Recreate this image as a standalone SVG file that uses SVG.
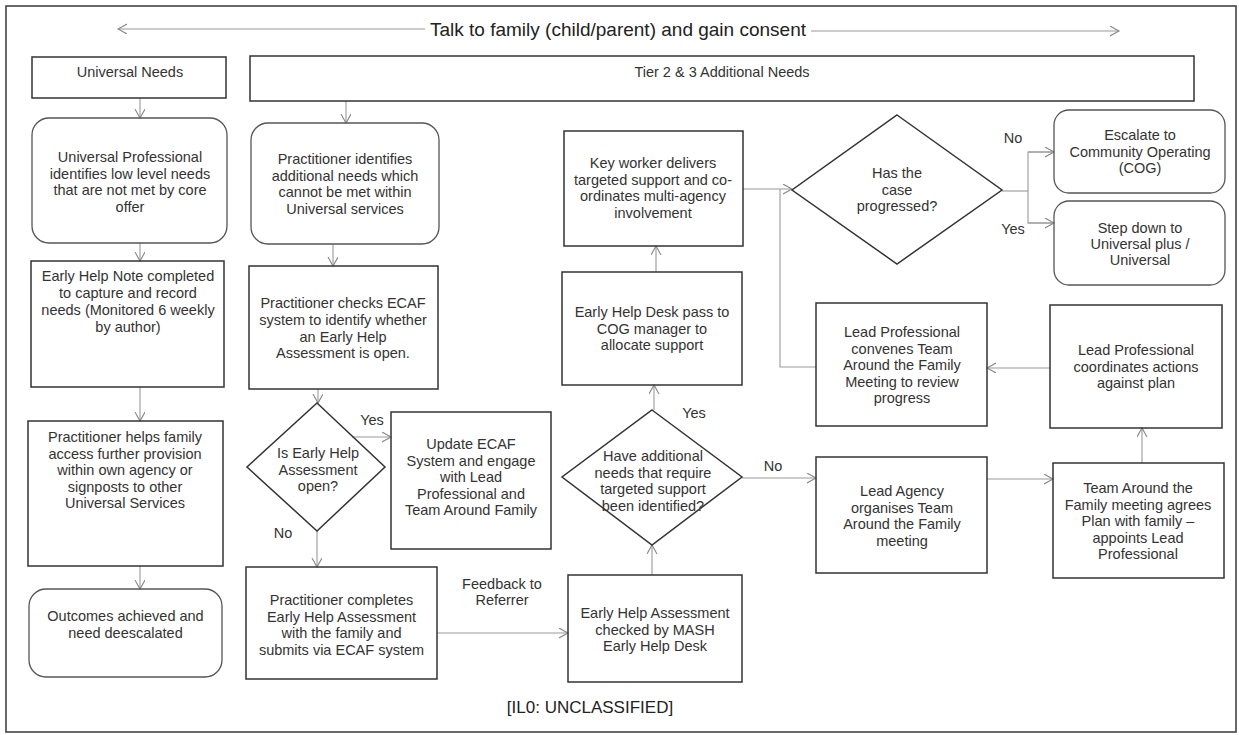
<svg xmlns="http://www.w3.org/2000/svg" width="1239" height="735" viewBox="0 0 1239 735">
<style>
  .bx{fill:none;stroke:#333;stroke-width:1.5}
  .rb{fill:none;stroke:#555;stroke-width:1.3}
  .t{font-family:"Liberation Sans",Arial,sans-serif;font-size:14.5px;fill:#333;text-anchor:middle}
  .lb{font-family:"Liberation Sans",Arial,sans-serif;font-size:14.5px;fill:#333;text-anchor:middle}
  .cn{fill:none;stroke:#999;stroke-width:1.1}
  .ttl{font-family:"Liberation Sans",Arial,sans-serif;font-size:19px;fill:#222;text-anchor:middle}
</style>
<defs>
  <marker id="ah" markerUnits="userSpaceOnUse" markerWidth="12" markerHeight="12" refX="9" refY="5" orient="auto">
    <path d="M0,0 L9,5 L0,10" fill="none" stroke="#888" stroke-width="1.1"/>
  </marker>
</defs>
<rect width="1239" height="735" fill="#fff"/>
<rect x="6" y="6" width="1230" height="726" fill="none" stroke="#444" stroke-width="1.6"/>

<g id="title">
  <text class="ttl" x="618" y="36">Talk to family (child/parent) and gain consent</text>
</g>

<g id="connectors">
  <line class="cn" x1="425" y1="29" x2="118" y2="29" marker-end="url(#ah)"/>
  <line class="cn" x1="811" y1="31" x2="1119" y2="31" marker-end="url(#ah)"/>
  <line class="cn" x1="140" y1="98" x2="140" y2="118" marker-end="url(#ah)"/>
  <line class="cn" x1="346" y1="101" x2="346" y2="123" marker-end="url(#ah)"/>
  <line class="cn" x1="140" y1="243" x2="140" y2="261" marker-end="url(#ah)"/>
  <line class="cn" x1="333" y1="244" x2="333" y2="266" marker-end="url(#ah)"/>
  <line class="cn" x1="140" y1="387" x2="140" y2="421" marker-end="url(#ah)"/>
  <line class="cn" x1="318" y1="389" x2="318" y2="403" marker-end="url(#ah)"/>
  <line class="cn" x1="140" y1="566" x2="140" y2="589" marker-end="url(#ah)"/>
  <line class="cn" x1="352" y1="437" x2="391" y2="437" marker-end="url(#ah)"/>
  <line class="cn" x1="317" y1="531" x2="317" y2="567" marker-end="url(#ah)"/>
  <line class="cn" x1="437" y1="633" x2="568" y2="633" marker-end="url(#ah)"/>
  <line class="cn" x1="652" y1="575" x2="652" y2="545" marker-end="url(#ah)"/>
  <line class="cn" x1="654" y1="410" x2="654" y2="385" marker-end="url(#ah)"/>
  <line class="cn" x1="656" y1="272" x2="656" y2="246" marker-end="url(#ah)"/>
  <line class="cn" x1="742" y1="478" x2="816" y2="478" marker-end="url(#ah)"/>
  <line class="cn" x1="987" y1="479" x2="1053" y2="479" marker-end="url(#ah)"/>
  <line class="cn" x1="1142" y1="463" x2="1142" y2="428" marker-end="url(#ah)"/>
  <line class="cn" x1="1050" y1="368" x2="987" y2="368" marker-end="url(#ah)"/>
  <line class="cn" x1="743" y1="189" x2="792" y2="189" marker-end="url(#ah)"/>
  <polyline class="cn" points="816,367 780,367 780,189"/>
  <polyline class="cn" points="1002,191 1028,191"/>
  <polyline class="cn" points="1054,152 1028,152 1028,223 1054,223"/>
  <line class="cn" x1="1028" y1="152" x2="1054" y2="152" marker-end="url(#ah)"/>
  <line class="cn" x1="1028" y1="223" x2="1054" y2="223" marker-end="url(#ah)"/>
</g>

<g id="universal-needs">
  <rect class="bx" x="32" y="57" width="194" height="41"/>
  <text class="t" x="130" y="77">Universal Needs</text>
</g>
<g id="tier-needs">
  <rect class="bx" x="250" y="56" width="944" height="45"/>
  <text class="t" x="722" y="77">Tier 2 &amp; 3 Additional Needs</text>
</g>
<g id="universal-professional">
  <rect class="rb" x="32" y="118" width="195" height="125" rx="17"/>
  <text class="t" x="130"><tspan x="130" y="162">Universal Professional</tspan><tspan x="130" y="178.5">identifies low level needs</tspan><tspan x="130" y="195">that are not met by core</tspan><tspan x="130" y="211.5">offer</tspan></text>
</g>
<g id="early-help-note">
  <rect class="bx" x="31" y="261" width="193" height="126"/>
  <text class="t"><tspan x="128" y="281">Early Help Note completed</tspan><tspan x="128" y="298">to capture and record</tspan><tspan x="128" y="315">needs (Monitored 6 weekly</tspan><tspan x="128" y="332">by author)</tspan></text>
</g>
<g id="practitioner-helps">
  <rect class="bx" x="28" y="421" width="195" height="145"/>
  <text class="t"><tspan x="125" y="442">Practitioner helps family</tspan><tspan x="125" y="458.5">access further provision</tspan><tspan x="125" y="475">within own agency or</tspan><tspan x="125" y="491.5">signposts to other</tspan><tspan x="125" y="508">Universal Services</tspan></text>
</g>
<g id="outcomes">
  <rect class="rb" x="29" y="589" width="193" height="88" rx="17"/>
  <text class="t"><tspan x="125.5" y="621">Outcomes achieved and</tspan><tspan x="125.5" y="637.5">need deescalated</tspan></text>
</g>
<g id="practitioner-identifies">
  <rect class="rb" x="251" y="123" width="188" height="121" rx="17"/>
  <text class="t"><tspan x="345" y="164">Practitioner identifies</tspan><tspan x="345" y="180.5">additional needs which</tspan><tspan x="345" y="197">cannot be met within</tspan><tspan x="345" y="213.5">Universal services</tspan></text>
</g>
<g id="practitioner-checks">
  <rect class="bx" x="249" y="266" width="189" height="123"/>
  <text class="t"><tspan x="343" y="308">Practitioner checks ECAF</tspan><tspan x="343" y="325">system to identify whether</tspan><tspan x="343" y="341.5">an Early Help</tspan><tspan x="343" y="358">Assessment is open.</tspan></text>
</g>
<g id="is-open">
  <polygon class="bx" points="317,403 385,467 317,531 247,467"/>
  <text class="t"><tspan x="318" y="458">Is Early Help</tspan><tspan x="318" y="474.5">Assessment</tspan><tspan x="318" y="491">open?</tspan></text>
</g>
<g id="update-ecaf">
  <rect class="bx" x="391" y="412" width="160" height="137"/>
  <text class="t"><tspan x="471" y="449">Update ECAF</tspan><tspan x="471" y="465.5">System and engage</tspan><tspan x="471" y="482">with Lead</tspan><tspan x="471" y="498.5">Professional and</tspan><tspan x="471" y="515">Team Around Family</tspan></text>
</g>
<g id="practitioner-completes">
  <rect class="bx" x="246" y="567" width="191" height="112"/>
  <text class="t"><tspan x="341.5" y="605">Practitioner completes</tspan><tspan x="341.5" y="621.5">Early Help Assessment</tspan><tspan x="341.5" y="638">with the family and</tspan><tspan x="341.5" y="654.5">submits via ECAF system</tspan></text>
</g>
<g id="eha-checked">
  <rect class="bx" x="568" y="575" width="174" height="107"/>
  <text class="t"><tspan x="655" y="618">Early Help Assessment</tspan><tspan x="655" y="634.5">checked by MASH</tspan><tspan x="655" y="651">Early Help Desk</tspan></text>
</g>
<g id="additional-needs">
  <polygon class="bx" points="652,410 742,477 652,545 562,477"/>
  <text class="t"><tspan x="653" y="461">Have additional</tspan><tspan x="653" y="477.5">needs that require</tspan><tspan x="653" y="494">targeted support</tspan><tspan x="653" y="510.5">been identified?</tspan></text>
</g>
<g id="ehd-pass">
  <rect class="bx" x="562" y="272" width="180" height="113"/>
  <text class="t"><tspan x="652" y="317">Early Help Desk pass to</tspan><tspan x="652" y="333.5">COG manager to</tspan><tspan x="652" y="350">allocate support</tspan></text>
</g>
<g id="key-worker">
  <rect class="bx" x="564" y="131" width="179" height="115"/>
  <text class="t"><tspan x="653" y="168">Key worker delivers</tspan><tspan x="653" y="184.5">targeted support and co-</tspan><tspan x="653" y="201">ordinates multi-agency</tspan><tspan x="653" y="217.5">involvement</tspan></text>
</g>
<g id="case-progressed">
  <polygon class="bx" points="897,115 1002,190 897,264 792,190"/>
  <text class="t"><tspan x="897" y="178">Has the</tspan><tspan x="897" y="194.5">case</tspan><tspan x="897" y="211">progressed?</tspan></text>
</g>
<g id="escalate">
  <rect class="rb" x="1054" y="110" width="171" height="83" rx="15"/>
  <text class="t"><tspan x="1140" y="140">Escalate to</tspan><tspan x="1140" y="156.5">Community Operating</tspan><tspan x="1140" y="173">(COG)</tspan></text>
</g>
<g id="step-down">
  <rect class="rb" x="1054" y="201" width="171" height="84" rx="15"/>
  <text class="t"><tspan x="1140" y="233">Step down to</tspan><tspan x="1140" y="249">Universal plus /</tspan><tspan x="1140" y="265">Universal</tspan></text>
</g>
<g id="lp-convenes">
  <rect class="bx" x="816" y="303" width="171" height="123"/>
  <text class="t"><tspan x="902" y="337">Lead Professional</tspan><tspan x="902" y="353.5">convenes Team</tspan><tspan x="902" y="370">Around the Family</tspan><tspan x="902" y="386.5">Meeting to review</tspan><tspan x="902" y="403">progress</tspan></text>
</g>
<g id="lp-coordinates">
  <rect class="bx" x="1050" y="305" width="172" height="123"/>
  <text class="t"><tspan x="1136" y="355">Lead Professional</tspan><tspan x="1136" y="371.5">coordinates actions</tspan><tspan x="1136" y="388">against plan</tspan></text>
</g>
<g id="lead-agency">
  <rect class="bx" x="816" y="457" width="171" height="116"/>
  <text class="t"><tspan x="902" y="496">Lead Agency</tspan><tspan x="902" y="512.5">organises Team</tspan><tspan x="902" y="529">Around the Family</tspan><tspan x="902" y="545.5">meeting</tspan></text>
</g>
<g id="team-around">
  <rect class="bx" x="1053" y="463" width="171" height="115"/>
  <text class="t"><tspan x="1138" y="493">Team Around the</tspan><tspan x="1138" y="509.5">Family meeting agrees</tspan><tspan x="1138" y="526">Plan with family –</tspan><tspan x="1138" y="542.5">appoints Lead</tspan><tspan x="1138" y="559">Professional</tspan></text>
</g>

<g id="labels">
  <text class="lb" x="372" y="425">Yes</text>
  <text class="lb" x="283" y="538">No</text>
  <text class="lb"><tspan x="502" y="589">Feedback to</tspan><tspan x="502" y="605">Referrer</tspan></text>
  <text class="lb" x="694" y="418">Yes</text>
  <text class="lb" x="773" y="471">No</text>
  <text class="lb" x="1013" y="143">No</text>
  <text class="lb" x="1013" y="234">Yes</text>
</g>
<g id="footer">
  <text class="ttl" x="590" y="713" style="font-size:17px">[IL0: UNCLASSIFIED]</text>
</g>
</svg>
